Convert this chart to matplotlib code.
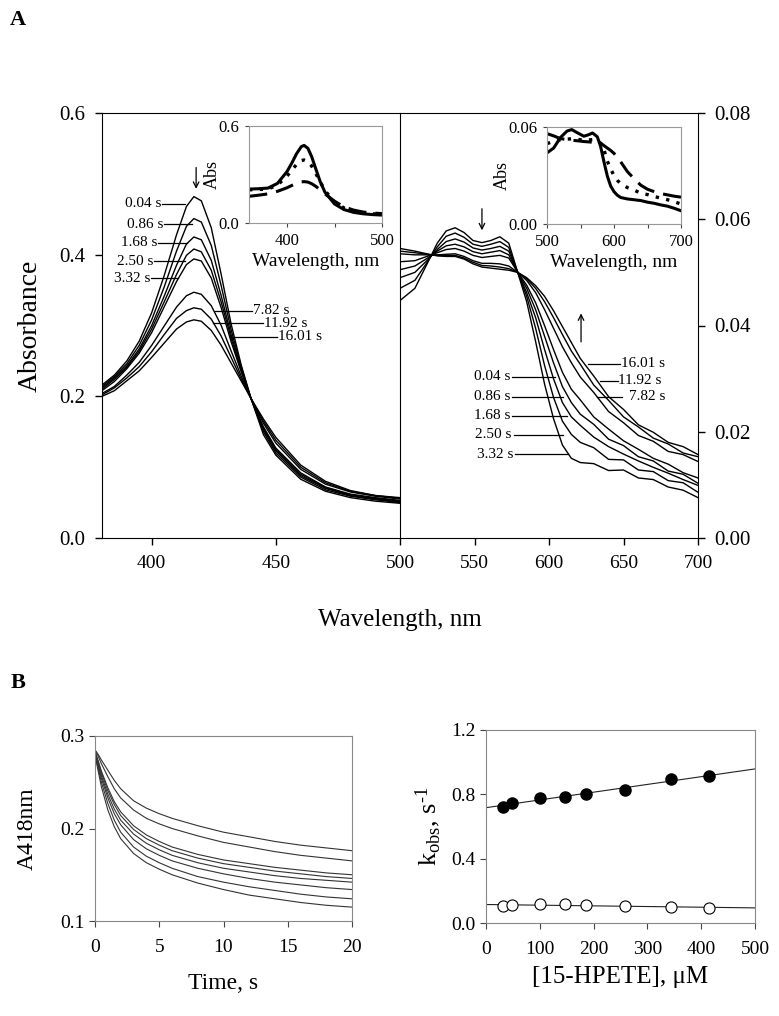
import matplotlib
matplotlib.use("Agg")
import matplotlib.pyplot as plt

plt.rcParams['font.family'] = ['Liberation Serif', 'DejaVu Serif']
plt.rcParams['mathtext.fontset'] = 'custom'
plt.rcParams['mathtext.rm'] = 'Liberation Serif'
plt.rcParams['mathtext.it'] = 'Liberation Serif:italic'

# ---- panel A, Soret region (380-500 nm) ----
times = ["0.04 s", "0.86 s", "1.68 s", "2.50 s", "3.32 s", "7.82 s", "11.92 s", "16.01 s"]
wl_soret = [380, 385, 390, 395, 400, 405, 410, 414, 417, 420, 424, 428, 432, 436, 440, 445, 450, 460, 470, 480, 490, 500]
soret = [
    [0.216, 0.230, 0.250, 0.278, 0.318, 0.370, 0.428, 0.468, 0.482, 0.476, 0.438, 0.372, 0.302, 0.245, 0.197, 0.146, 0.117, 0.083, 0.066, 0.057, 0.052, 0.049],
    [0.214, 0.228, 0.246, 0.272, 0.308, 0.354, 0.405, 0.440, 0.451, 0.446, 0.413, 0.356, 0.294, 0.242, 0.197, 0.150, 0.120, 0.086, 0.068, 0.059, 0.054, 0.050],
    [0.212, 0.226, 0.243, 0.267, 0.300, 0.341, 0.385, 0.415, 0.425, 0.421, 0.392, 0.342, 0.287, 0.239, 0.197, 0.153, 0.123, 0.088, 0.070, 0.060, 0.055, 0.051],
    [0.210, 0.224, 0.241, 0.264, 0.295, 0.333, 0.372, 0.399, 0.408, 0.404, 0.378, 0.333, 0.282, 0.237, 0.197, 0.155, 0.125, 0.090, 0.071, 0.061, 0.056, 0.052],
    [0.208, 0.221, 0.239, 0.261, 0.290, 0.326, 0.362, 0.386, 0.394, 0.391, 0.367, 0.325, 0.277, 0.235, 0.197, 0.157, 0.127, 0.092, 0.072, 0.062, 0.057, 0.053],
    [0.204, 0.214, 0.230, 0.248, 0.272, 0.299, 0.326, 0.342, 0.347, 0.344, 0.328, 0.300, 0.264, 0.229, 0.197, 0.162, 0.134, 0.097, 0.076, 0.065, 0.059, 0.055],
    [0.202, 0.212, 0.226, 0.242, 0.263, 0.287, 0.310, 0.321, 0.325, 0.323, 0.309, 0.285, 0.255, 0.225, 0.197, 0.165, 0.138, 0.100, 0.078, 0.066, 0.060, 0.056],
    [0.200, 0.208, 0.222, 0.236, 0.255, 0.275, 0.295, 0.305, 0.308, 0.306, 0.293, 0.272, 0.247, 0.222, 0.197, 0.168, 0.142, 0.103, 0.080, 0.067, 0.060, 0.057],
]

# ---- panel A, visible region (500-700 nm) ----
wl_vis = [500, 510, 518, 525, 531, 537, 543, 549, 555, 561, 567, 573, 579, 585, 591, 597, 603, 609, 615, 621, 630, 640, 650, 660, 670, 680, 690, 700]
vis = [
    [0.0447, 0.0470, 0.0515, 0.0555, 0.0578, 0.0584, 0.0575, 0.0560, 0.0556, 0.0560, 0.0567, 0.0555, 0.0500, 0.0445, 0.0370, 0.0290, 0.0225, 0.0175, 0.0150, 0.0142, 0.0140, 0.0127, 0.0128, 0.0113, 0.0110, 0.0096, 0.0090, 0.0076],
    [0.0470, 0.0485, 0.0518, 0.0548, 0.0568, 0.0574, 0.0566, 0.0553, 0.0549, 0.0553, 0.0558, 0.0547, 0.0500, 0.0455, 0.0395, 0.0325, 0.0265, 0.0220, 0.0195, 0.0180, 0.0170, 0.0148, 0.0147, 0.0128, 0.0125, 0.0108, 0.0104, 0.0086],
    [0.0490, 0.0500, 0.0522, 0.0543, 0.0558, 0.0563, 0.0557, 0.0546, 0.0542, 0.0545, 0.0549, 0.0540, 0.0500, 0.0462, 0.0415, 0.0355, 0.0300, 0.0255, 0.0228, 0.0212, 0.0190, 0.0172, 0.0158, 0.0145, 0.0133, 0.0122, 0.0110, 0.0099],
    [0.0505, 0.0512, 0.0526, 0.0540, 0.0550, 0.0553, 0.0548, 0.0539, 0.0535, 0.0538, 0.0541, 0.0533, 0.0500, 0.0470, 0.0430, 0.0380, 0.0330, 0.0285, 0.0255, 0.0233, 0.0214, 0.0186, 0.0174, 0.0153, 0.0145, 0.0126, 0.0120, 0.0103],
    [0.0520, 0.0522, 0.0530, 0.0537, 0.0543, 0.0545, 0.0540, 0.0532, 0.0528, 0.0530, 0.0532, 0.0527, 0.0500, 0.0476, 0.0443, 0.0400, 0.0355, 0.0312, 0.0280, 0.0260, 0.0228, 0.0205, 0.0183, 0.0167, 0.0150, 0.0139, 0.0123, 0.0113],
    [0.0535, 0.0533, 0.0533, 0.0533, 0.0534, 0.0535, 0.0530, 0.0522, 0.0517, 0.0517, 0.0516, 0.0512, 0.0500, 0.0485, 0.0462, 0.0430, 0.0395, 0.0360, 0.0330, 0.0303, 0.0274, 0.0238, 0.0217, 0.0193, 0.0182, 0.0163, 0.0157, 0.0144],
    [0.0540, 0.0537, 0.0534, 0.0532, 0.0532, 0.0532, 0.0527, 0.0519, 0.0513, 0.0512, 0.0510, 0.0507, 0.0500, 0.0488, 0.0470, 0.0445, 0.0415, 0.0383, 0.0352, 0.0327, 0.0288, 0.0259, 0.0228, 0.0209, 0.0188, 0.0177, 0.0160, 0.0153],
    [0.0545, 0.0540, 0.0535, 0.0531, 0.0530, 0.0530, 0.0525, 0.0516, 0.0510, 0.0508, 0.0506, 0.0504, 0.0500, 0.0490, 0.0475, 0.0455, 0.0428, 0.0398, 0.0368, 0.0338, 0.0305, 0.0266, 0.0242, 0.0213, 0.0199, 0.0180, 0.0172, 0.0157],
]

# ---- insets: initial (solid), intermediate (dotted), final (dashed) ----
wl_inset_soret = [360, 370, 380, 390, 400, 405, 410, 415, 418, 422, 426, 430, 435, 440, 450, 460, 470, 480, 490, 500]
inset_soret_solid = [0.210, 0.212, 0.216, 0.245, 0.318, 0.370, 0.428, 0.472, 0.480, 0.462, 0.410, 0.340, 0.255, 0.190, 0.118, 0.083, 0.066, 0.057, 0.052, 0.049]
inset_soret_dot = [0.205, 0.207, 0.210, 0.235, 0.290, 0.326, 0.362, 0.386, 0.390, 0.380, 0.352, 0.310, 0.255, 0.200, 0.130, 0.093, 0.073, 0.063, 0.057, 0.054]
inset_soret_dash = [0.165, 0.172, 0.180, 0.196, 0.218, 0.232, 0.245, 0.254, 0.256, 0.253, 0.243, 0.228, 0.205, 0.180, 0.135, 0.100, 0.080, 0.068, 0.062, 0.058]

wl_inset_vis = [500, 510, 520, 530, 537, 545, 555, 562, 568, 575, 580, 585, 590, 595, 600, 605, 610, 620, 630, 640, 650, 660, 670, 680, 690, 700]
inset_vis_solid = [0.0440, 0.0470, 0.0535, 0.0575, 0.0584, 0.0565, 0.0543, 0.0552, 0.0563, 0.0540, 0.0480, 0.0385, 0.0297, 0.0235, 0.0200, 0.0178, 0.0164, 0.0155, 0.0150, 0.0145, 0.0135, 0.0128, 0.0118, 0.0110, 0.0097, 0.0082]
inset_vis_dot = [0.0497, 0.0512, 0.0520, 0.0525, 0.0527, 0.0524, 0.0518, 0.0520, 0.0522, 0.0515, 0.0500, 0.0460, 0.0390, 0.0340, 0.0300, 0.0270, 0.0250, 0.0225, 0.0210, 0.0190, 0.0182, 0.0170, 0.0160, 0.0150, 0.0138, 0.0123]
inset_vis_dash = [0.0559, 0.0545, 0.0528, 0.0522, 0.0518, 0.0515, 0.0510, 0.0508, 0.0506, 0.0503, 0.0500, 0.0485, 0.0470, 0.0455, 0.0437, 0.0412, 0.0385, 0.0324, 0.0280, 0.0240, 0.0215, 0.0200, 0.0188, 0.0180, 0.0172, 0.0166]

# ---- panel B, A418 traces ----
t_trace = [0, 0.25, 0.5, 1, 1.5, 2, 3, 4, 5, 6, 8, 10, 12, 14, 16, 18, 20]
traces = [
    [0.285, 0.280, 0.274, 0.263, 0.252, 0.243, 0.230, 0.222, 0.216, 0.211, 0.203, 0.196, 0.191, 0.186, 0.182, 0.179, 0.176],
    [0.285, 0.278, 0.270, 0.256, 0.243, 0.233, 0.220, 0.211, 0.205, 0.200, 0.192, 0.185, 0.180, 0.175, 0.171, 0.168, 0.165],
    [0.283, 0.273, 0.262, 0.244, 0.229, 0.218, 0.203, 0.193, 0.186, 0.180, 0.172, 0.166, 0.162, 0.158, 0.155, 0.152, 0.150],
    [0.283, 0.272, 0.260, 0.241, 0.226, 0.214, 0.199, 0.189, 0.182, 0.176, 0.168, 0.162, 0.158, 0.154, 0.151, 0.148, 0.146],
    [0.282, 0.270, 0.257, 0.237, 0.221, 0.209, 0.194, 0.184, 0.177, 0.171, 0.163, 0.157, 0.153, 0.149, 0.146, 0.144, 0.142],
    [0.281, 0.268, 0.254, 0.233, 0.216, 0.204, 0.188, 0.178, 0.171, 0.165, 0.157, 0.151, 0.146, 0.142, 0.139, 0.136, 0.134],
    [0.280, 0.265, 0.250, 0.227, 0.209, 0.196, 0.180, 0.170, 0.163, 0.157, 0.148, 0.142, 0.137, 0.133, 0.129, 0.126, 0.124],
    [0.279, 0.262, 0.245, 0.220, 0.202, 0.189, 0.173, 0.163, 0.156, 0.150, 0.141, 0.134, 0.128, 0.124, 0.120, 0.117, 0.115],
]

# ---- panel B, kobs vs [15-HPETE] ----
hpete = [31, 48, 101, 146, 185, 259, 344, 414]
kobs_fast = [0.722, 0.747, 0.775, 0.784, 0.800, 0.829, 0.894, 0.917]
kobs_slow = [0.107, 0.109, 0.117, 0.117, 0.113, 0.105, 0.098, 0.096]
fit_x = [0, 500]
fit_fast = [0.717, 0.958]
fit_slow = [0.115, 0.094]

W, H = 779, 1016


def box(x0, y0, x1, y1):
    return [x0 / W, 1 - y1 / H, (x1 - x0) / W, (y1 - y0) / H]


fig = plt.figure(figsize=(W / 100, H / 100), dpi=100)

# main left
axl = fig.add_axes(box(102, 113, 400, 538))
for y in soret:
    axl.plot(wl_soret, y, color="black", lw=1.0)
axl.set_xlim(380, 500)
axl.set_ylim(0, 0.6)
axl.set_xticks([400, 450])
axl.set_yticks([0.0, 0.2, 0.4, 0.6])
axl.set_yticklabels(["0.0", "0.2", "0.4", "0.6"])
axl.spines["right"].set_visible(False)
axl.tick_params(direction="out", labelsize=14, length=5, width=1, pad=7)
axl.tick_params(axis="y", labelsize=15)
axl.set_ylabel("Absorbance", fontsize=20, labelpad=12)

left_labels = [
    (403.8, 0.472, 413.4), (404.6, 0.443, 416.2), (402.1, 0.4165, 414.2),
    (400.5, 0.391, 413.4), (399.3, 0.367, 410.6),
]
for (tx, ty, ex), lab in zip(left_labels, times[:5]):
    axl.plot([tx + 0.4, ex], [ty, ty], color="black", lw=0.9)
    axl.text(tx, ty, lab, ha="right", va="center", fontsize=11)
right_labels = [(425.5, 0.3205, 440.4), (424.7, 0.3035, 444.8), (431.5, 0.2838, 450.5)]
for (sx, ty, tx), lab in zip(right_labels, times[5:]):
    axl.plot([sx, tx], [ty, ty], color="black", lw=0.9)
    axl.text(tx + 0.4, ty, lab, ha="left", va="center", fontsize=11)
axl.annotate("", xy=(417.9, 0.489), xytext=(417.9, 0.527),
             arrowprops=dict(arrowstyle="->", color="black", lw=0.9))

# main right (its left spine is the divider between the two halves)
axr = fig.add_axes(box(400, 113, 698, 538))
axr.patch.set_alpha(0)
for y in vis:
    axr.plot(wl_vis, y, color="black", lw=1.0)
axr.set_xlim(500, 700)
axr.set_ylim(0, 0.08)
axr.set_xticks([500, 550, 600, 650, 700])
axr.set_yticks([0, 0.02, 0.04, 0.06, 0.08])
axr.set_yticklabels(["0.00", "0.02", "0.04", "0.06", "0.08"])
axr.yaxis.tick_right()
axr.tick_params(direction="out", labelsize=14, length=5, width=1, pad=7)
axr.tick_params(axis="y", labelsize=15)

vis_left_labels = [
    (573.8, 0.0304, 604.0), (573.8, 0.0266, 609.4), (573.8, 0.0230, 612.0),
    (575.0, 0.0194, 609.4), (576.0, 0.0158, 612.8),
]
for (tx, ty, ex), lab in zip(vis_left_labels, times[:5]):
    axr.plot([tx + 1.2, ex], [ty, ty], color="black", lw=0.9)
    axr.text(tx, ty, lab, ha="right", va="center", fontsize=11)
vis_right_labels = [(626.0, 0.0328, 647.7, 648.5), (634.0, 0.0296, 646.0, 646.5), (632.0, 0.0266, 649.0, 654.0)]
for (sx, ty, ex, tx), lab in zip(vis_right_labels, times[::-1][:3]):
    axr.plot([sx, ex], [ty, ty], color="black", lw=0.9)
    axr.text(tx, ty, lab, ha="left", va="center", fontsize=11)
axr.annotate("", xy=(555, 0.0574), xytext=(555, 0.0625),
             arrowprops=dict(arrowstyle="->", color="black", lw=0.9))
axr.annotate("", xy=(621.5, 0.0428), xytext=(621.5, 0.0364),
             arrowprops=dict(arrowstyle="->", color="black", lw=0.9))

fig.text(400 / W, 1 - 620 / H, "Wavelength, nm", ha="center", va="center", fontsize=18)
fig.text(18 / W, 1 - 20 / H, "A", ha="center", va="center", fontsize=16, fontweight="bold")


def inset(rect, x, ys, xlim, ylim, xticks, xlabels, yticks, ylabels):
    ax = fig.add_axes(rect)
    styles = [dict(ls="-", lw=2.2), dict(ls=(0, (1, 2.2)), lw=2.4), dict(ls=(0, (6, 3)), lw=2.2)]
    for y, st in zip(ys, styles):
        ax.plot(x, y, color="black", **st)
    ax.set_xlim(*xlim)
    ax.set_ylim(*ylim)
    ax.set_xticks(xticks)
    ax.set_xticklabels(xlabels)
    ax.set_yticks(yticks)
    ax.set_yticklabels(ylabels)
    for s in ax.spines.values():
        s.set_color("#999999")
        s.set_linewidth(0.8)
    ax.tick_params(direction="out", labelsize=12, length=3, width=0.8, color="#444444", pad=4)
    ax.set_ylabel("Abs", fontsize=13, labelpad=-2)
    ax.set_xlabel("Wavelength, nm", fontsize=14, labelpad=3)
    return ax


inset(box(249, 126, 382, 223), wl_inset_soret,
      [inset_soret_solid, inset_soret_dot, inset_soret_dash],
      (360, 500), (0, 0.6), [400, 450, 500], ["400", "", "500"],
      [0, 0.6], ["0.0", "0.6"])
inset(box(547, 127, 681, 224), wl_inset_vis,
      [inset_vis_solid, inset_vis_dot, inset_vis_dash],
      (500, 700), (0, 0.06), [500, 550, 600, 650, 700], ["500", "", "600", "", "700"],
      [0, 0.06], ["0.00", "0.06"])

# panel B
fig.text(18 / W, 1 - 683 / H, "B", ha="center", va="center", fontsize=16, fontweight="bold")

axb = fig.add_axes(box(95, 736, 352, 921))
for y in traces:
    axb.plot(t_trace, y, color="#333333", lw=0.8)
axb.set_xlim(0, 20)
axb.set_ylim(0.1, 0.3)
axb.set_xticks([0, 5, 10, 15, 20])
axb.set_yticks([0.1, 0.2, 0.3])
for s in axb.spines.values():
    s.set_color("#888888")
    s.set_linewidth(0.8)
axb.tick_params(direction="out", labelsize=14, length=4, width=0.8, color="#444444")
axb.tick_params(axis="x", pad=9)
axb.set_xlabel("Time, s", fontsize=17, labelpad=12)
axb.set_ylabel("A418nm", fontsize=17, labelpad=16)

axk = fig.add_axes(box(486, 730, 755, 923))
axk.plot(fit_x, fit_fast, color="#222222", lw=0.8)
axk.plot(fit_x, fit_slow, color="#222222", lw=0.8)
axk.plot(hpete, kobs_fast, "o", color="black", ms=8)
axk.plot(hpete, kobs_slow, "o", mfc="white", mec="black", mew=0.8, ms=8)
axk.set_xlim(0, 500)
axk.set_ylim(0, 1.2)
axk.set_xticks([0, 100, 200, 300, 400, 500])
axk.set_yticks([0, 0.4, 0.8, 1.2])
axk.set_yticklabels(["0.0", "0.4", "0.8", "1.2"])
for s in axk.spines.values():
    s.set_color("#888888")
    s.set_linewidth(0.8)
axk.tick_params(direction="out", labelsize=14, length=4, width=0.8, color="#444444")
axk.tick_params(axis="x", pad=9)
axk.set_xlabel("[15-HPETE], \u03bcM", fontsize=18, labelpad=6)
axk.set_ylabel("k$_{\\rm obs}$, s$^{\\rm \u2010 1}$", fontsize=19, labelpad=6)

fig.savefig("out.png", dpi=100)
